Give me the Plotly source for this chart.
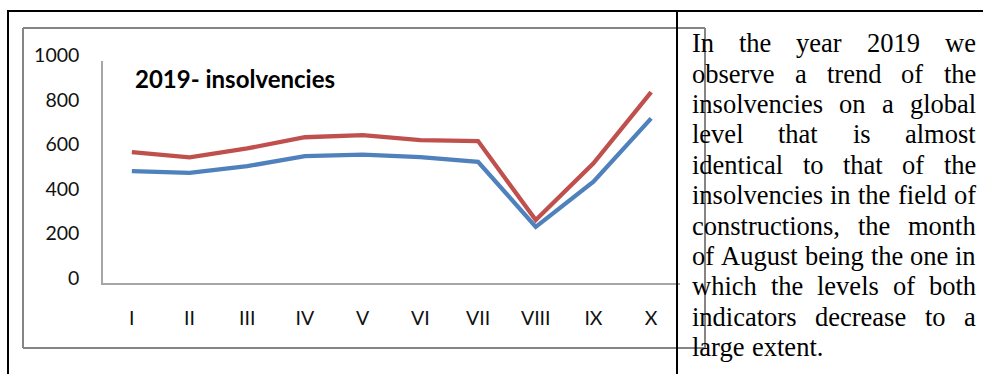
import plotly.graph_objects as go

# ---- data -------------------------------------------------------------
months = ["I", "II", "III", "IV", "V", "VI", "VII", "VIII", "IX", "X"]
insolvencies_total = [588, 565, 605, 655, 665, 642, 638, 283, 538, 858]
insolvencies_constructions = [503, 495, 525, 570, 577, 566, 545, 252, 455, 740]
y_ticks = [0, 200, 400, 600, 800, 1000]

chart_title = "2019- insolvencies"
paragraph_lines = [
    "In the year 2019 we",
    "observe a trend of the",
    "insolvencies on a global",
    "level that is almost",
    "identical to that of the",
    "insolvencies in the field of",
    "constructions, the month",
    "of August being the one in",
    "which the levels of both",
    "indicators decrease to a",
    "large extent.",
]

# ---- page geometry (pixels) ------------------------------------------
W, H = 983, 374
RED = "#c0504d"
BLUE = "#4f81bd"


def px(x):
    return x / W


def py(y):
    return 1 - y / H


fig = go.Figure()
fig.add_trace(go.Scatter(x=months, y=insolvencies_total, mode="lines",
                         name="Global level",
                         line=dict(color=RED, width=4.3)))
fig.add_trace(go.Scatter(x=months, y=insolvencies_constructions, mode="lines",
                         name="Constructions",
                         line=dict(color=BLUE, width=4.3)))

axis_font = dict(family="Lato, Open Sans, sans-serif", size=19.5, color="#111111")

fig.update_layout(
    width=W, height=H, autosize=False,
    margin=dict(l=0, r=0, t=0, b=0, pad=0, autoexpand=False),
    paper_bgcolor="white", plot_bgcolor="white",
    showlegend=False,
    xaxis=dict(domain=[px(103), px(680)], range=[-0.5, 9.5],
               showline=True, linecolor="#a6a6a6", linewidth=1.5,
               showgrid=False, zeroline=False, ticks="", automargin=False,
               tickfont=dict(axis_font, size=19.5), ticklabelstandoff=17,
               fixedrange=True),
    yaxis=dict(domain=[py(283), py(60.5)], range=[0, 1000],
               tickvals=y_ticks, showline=True, linecolor="#a6a6a6",
               linewidth=1.5, showgrid=False, zeroline=False, ticks="",
               automargin=False,
               tickfont=axis_font, ticklabelstandoff=18, ticklabelshift=-5,
               fixedrange=True),
)

# ---- frames: table rules (black) and chart border (grey) --------------
shapes = []


def line(x0, y0, x1, y1, color, width):
    shapes.append(dict(type="line", xref="paper", yref="paper",
                       x0=px(x0), y0=py(y0), x1=px(x1), y1=py(y1),
                       line=dict(color=color, width=width)))


line(23, 28, 705, 28, "#858585", 2)
line(23, 348, 705, 348, "#858585", 2)
line(23, 28, 23, 348, "#858585", 2)
line(705, 28, 705, 348, "#858585", 2)

line(7, 11, W, 11, "black", 2)
line(8, 11, 8, H, "black", 2)
line(677, 11, 677, H, "black", 2)
fig.update_layout(shapes=shapes)

# ---- chart title ------------------------------------------------------
annotations = [dict(text="<b>" + chart_title + "</b>", xref="paper", yref="paper",
                    x=px(135), y=py(79), xanchor="left", yanchor="middle",
                    showarrow=False, borderpad=0, borderwidth=0,
                    font=dict(family="Lato, Open Sans, sans-serif", size=24,
                              color="black"))]

# ---- justified paragraph (Times metrics, units per 1000 em) -----------
TIMES_W = {
    " ": 250, ",": 250, ".": 250, "0": 500, "1": 500, "2": 500, "9": 500,
    "A": 722, "I": 333,
    "a": 444, "b": 500, "c": 444, "d": 500, "e": 444, "f": 333, "g": 500,
    "h": 500, "i": 278, "j": 278, "k": 500, "l": 278, "m": 778, "n": 500,
    "o": 500, "p": 500, "q": 500, "r": 333, "s": 389, "t": 278, "u": 500,
    "v": 500, "w": 722, "x": 500, "y": 500, "z": 444,
}
FS = 26.5
TEXT_LEFT, TEXT_RIGHT = 692, 976
FIRST_BASELINE, LINE_PITCH = 52.2, 30.4


def word_width(word):
    return sum(TIMES_W.get(c, 500) for c in word) * FS / 1000


for i, text_line in enumerate(paragraph_lines):
    words = text_line.split()
    widths = [word_width(w) for w in words]
    last = i == len(paragraph_lines) - 1
    if last or len(words) == 1:
        gap = TIMES_W[" "] * FS / 1000
    else:
        gap = (TEXT_RIGHT - TEXT_LEFT - sum(widths)) / (len(words) - 1)
    baseline = FIRST_BASELINE + i * LINE_PITCH
    center = baseline - (0.891 - 0.216) / 2 * FS
    x = TEXT_LEFT
    for w, wd in zip(words, widths):
        annotations.append(dict(text=w, xref="paper", yref="paper",
                                x=px(x), y=py(center), xanchor="left",
                                yanchor="middle", showarrow=False,
                                borderpad=0, borderwidth=0,
                                font=dict(family="Liberation Serif, Times New Roman, serif",
                                          size=FS, color="black")))
        x += wd + gap

fig.update_layout(annotations=annotations)

fig.write_html("out.html", include_plotlyjs=True, config={"displayModeBar": False})
